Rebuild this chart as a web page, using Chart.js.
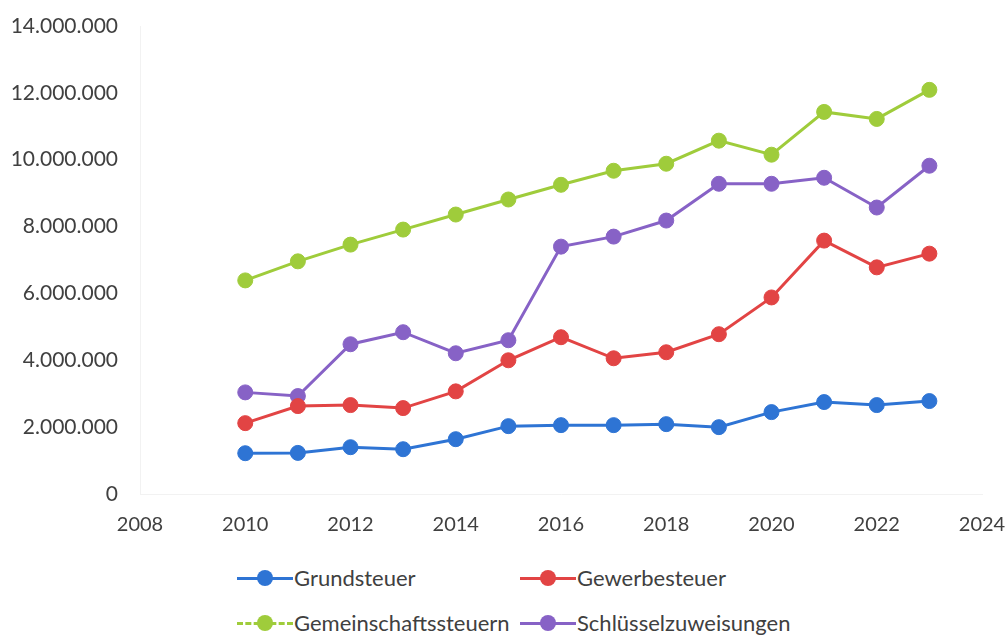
<!DOCTYPE html>
<html>
<head>
<meta charset="utf-8">
<script src="https://cdn.jsdelivr.net/npm/chart.js@4"></script>
<style>
  body { margin: 0; background: #fff; font-family: Lato, "Open Sans", sans-serif; overflow: hidden; }
  #wrap { position: relative; width: 1008px; height: 636px; }
  #chartBox { position: absolute; left: 0; top: 0; width: 1008px; height: 545px; }
  .leg { position: absolute; display: flex; align-items: center; font-size: 22px; color: #404040; }
  .mark { position: relative; width: 56px; height: 16px; margin-right: 1px; }
  .mark .ln { position: absolute; left: 0; right: 0; top: 7px; height: 0; border-top: 3px solid; }
  .mark .dot { position: absolute; left: 20px; top: 0; width: 16px; height: 16px; border-radius: 50%; }
</style>
</head>
<body>
<div id="wrap">
  <div id="chartBox"><canvas id="taxChart" width="1008" height="545"></canvas></div>
  <div id="legend"></div>
</div>
<script>
const years = [2010, 2011, 2012, 2013, 2014, 2015, 2016, 2017, 2018, 2019, 2020, 2021, 2022, 2023];

const grundsteuer = [1220000, 1230000, 1400000, 1340000, 1640000, 2030000, 2060000, 2060000, 2090000, 2000000, 2450000, 2750000, 2660000, 2780000];
const gewerbesteuer = [2120000, 2630000, 2660000, 2570000, 3070000, 4000000, 4690000, 4060000, 4240000, 4780000, 5880000, 7580000, 6780000, 7190000];
const gemeinschaftssteuern = [6390000, 6960000, 7460000, 7910000, 8360000, 8810000, 9250000, 9670000, 9880000, 10570000, 10150000, 11430000, 11220000, 12090000];
const schluesselzuweisungen = [3040000, 2930000, 4480000, 4840000, 4210000, 4600000, 7400000, 7700000, 8180000, 9280000, 9280000, 9460000, 8570000, 9820000];

const seriesNames = ['Grundsteuer', 'Gewerbesteuer', 'Gemeinschaftssteuern', 'Schlüsselzuweisungen'];
const seriesColors = ['#2e74d4', '#e24444', '#9fcc3b', '#8762c6'];
const seriesData = [grundsteuer, gewerbesteuer, gemeinschaftssteuern, schluesselzuweisungen];

const xTicks = [2008, 2010, 2012, 2014, 2016, 2018, 2020, 2022, 2024];
const yTicks = [0, 2000000, 4000000, 6000000, 8000000, 10000000, 12000000, 14000000];

const datasets = seriesData.map((vals, i) => ({
    label: seriesNames[i],
    data: vals.map((v, j) => ({ x: years[j], y: v })),
    borderColor: seriesColors[i],
    backgroundColor: seriesColors[i],
    borderWidth: 3,
    pointRadius: 7.5,
    pointHoverRadius: 7.5,
    pointBorderWidth: 1,
    tension: 0
}));

const ctx = document.getElementById('taxChart').getContext('2d');

// tick marks are invisible, their length just pushes the labels away from the plot
new Chart(ctx, {
    type: 'line',
    data: { datasets: datasets },
    options: {
        responsive: false,
        animation: false,
        layout: { padding: { top: 26, right: 26, bottom: 1, left: 0 } },
        plugins: { legend: { display: false }, tooltip: { enabled: false } },
        scales: {
            x: {
                type: 'linear',
                min: xTicks[0],
                max: xTicks[xTicks.length - 1],
                afterBuildTicks: (axis) => { axis.ticks = xTicks.map(v => ({ value: v })); },
                afterFit: (axis) => { axis.height = 50; },
                grid: { display: true, drawOnChartArea: false, drawTicks: true, tickLength: 19, tickColor: 'rgba(0,0,0,0)' },
                border: { display: true, color: '#f2f2f2', width: 1 },
                ticks: {
                    padding: 0,
                    color: '#404040',
                    font: { family: 'Lato', size: 20 },
                    callback: (v) => String(v)
                }
            },
            y: {
                min: yTicks[0],
                max: yTicks[yTicks.length - 1],
                afterBuildTicks: (axis) => { axis.ticks = yTicks.map(v => ({ value: v })); },
                afterFit: (axis) => { axis.width = 140; },
                grid: { display: true, drawOnChartArea: false, drawTicks: true, tickLength: 22, tickColor: 'rgba(0,0,0,0)' },
                border: { display: true, color: '#f2f2f2', width: 1 },
                ticks: {
                    padding: 0,
                    color: '#404040',
                    font: { family: 'Lato', size: 21 },
                    callback: (v) => v.toLocaleString('de-DE')
                }
            }
        }
    }
});

// legend below the chart, two rows of two
const legendPos = [[237, 578], [520, 578], [237, 623], [520, 623]];
const legend = document.getElementById('legend');
seriesNames.forEach((name, i) => {
    const item = document.createElement('div');
    item.className = 'leg';
    item.style.left = legendPos[i][0] + 'px';
    item.style.top = (legendPos[i][1] - 14) + 'px';
    const dash = i === 2 ? 'dashed' : 'solid';
    item.innerHTML =
        '<div class="mark"><div class="ln" style="border-top-style:' + dash + ';border-color:' + seriesColors[i] + '"></div>' +
        '<div class="dot" style="background:' + seriesColors[i] + '"></div></div>' +
        '<span>' + name + '</span>';
    legend.appendChild(item);
});
</script>
</body>
</html>
